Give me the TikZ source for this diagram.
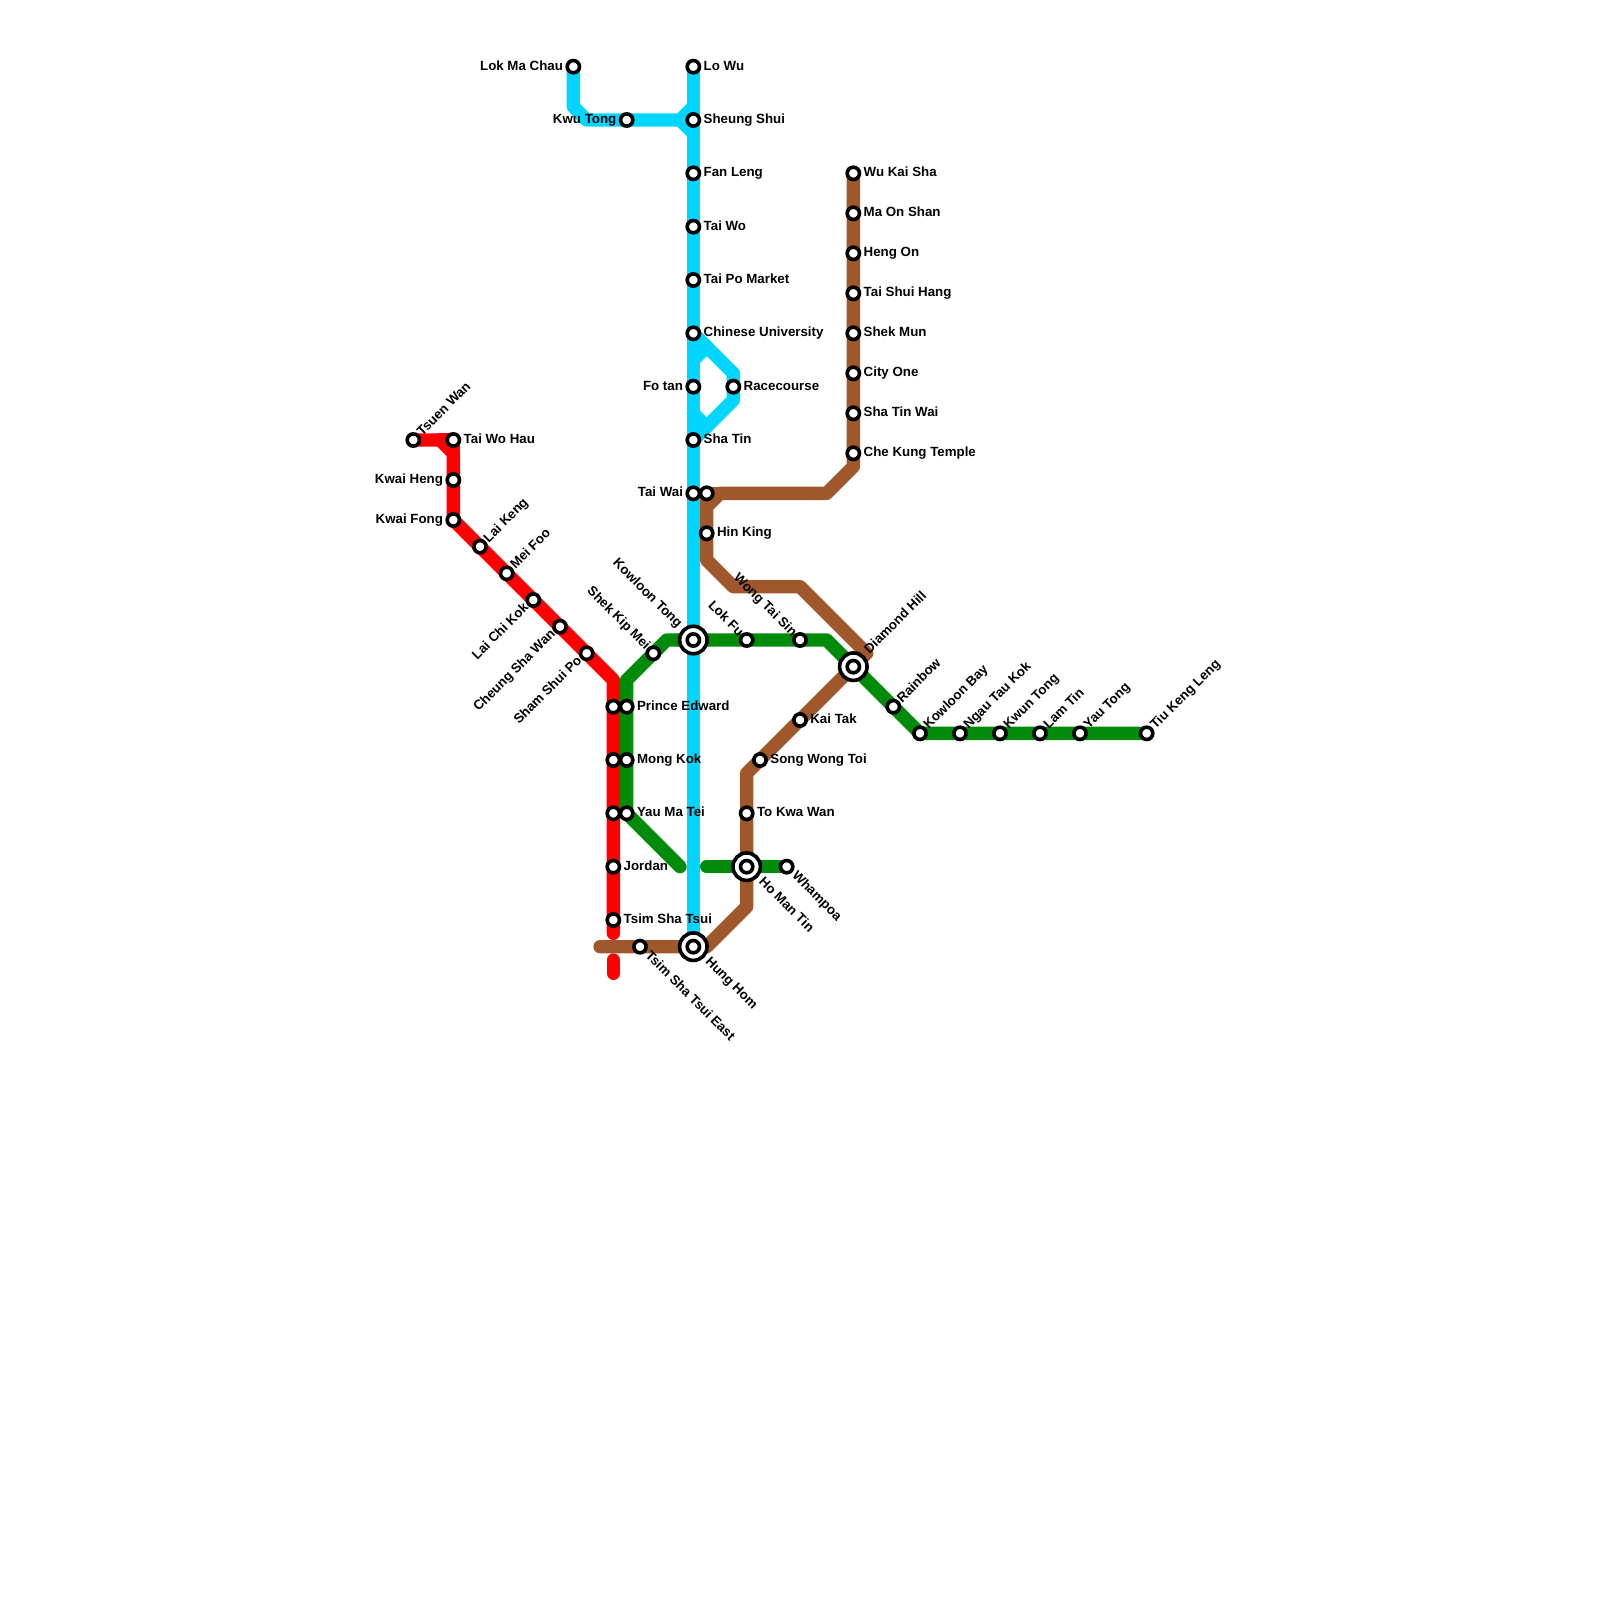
\documentclass[tikz,border=0pt]{standalone}
\usepackage{fontspec}
\setmainfont{Liberation Sans}
\usetikzlibrary{backgrounds}
\definecolor{eastrail}{RGB}{0,214,255}
\definecolor{tsuenwan}{RGB}{255,0,0}
\definecolor{kwuntong}{RGB}{0,140,10}
\definecolor{maonshan}{RGB}{160,87,43}
\tikzset{>=latex}
\tikzset{line/.style={line width=0.25cm, line cap=round, line join=round}}
\tikzset{stn/.style={circle, draw=black, fill=white, line width=0.068cm,
    minimum size=0.23cm, inner sep=0pt, outer sep=0pt}}
\tikzset{hub/.style={circle, draw=black, fill=white, line width=0.068cm,
    minimum size=0.515cm, inner sep=0pt, outer sep=0pt,
    path picture={\draw[line width=0.068cm] (path picture bounding box.center)
      circle[radius=0.115cm];}}}
\tikzset{lbl/.style={inner sep=0pt, font=\fontsize{7.1pt}{8pt}\selectfont\bfseries}}
\tikzset{lblE/.style={lbl, anchor=base west, shift={(0.75,0.27)}}}
\tikzset{lblW/.style={lbl, anchor=base east, shift={(-0.75,0.27)}}}
\tikzset{lblNE/.style={lbl, anchor=base west, shift={(0.65,-0.25)}, rotate=45}}
\tikzset{lblSE/.style={lbl, anchor=base west, shift={(0.35,0.7)}, rotate=-45}}
\tikzset{lblNW/.style={lbl, anchor=base east, shift={(-0.6,-0.2)}, rotate=-45}}
\tikzset{lblSW/.style={lbl, anchor=base east, shift={(-0.3,0.6)}, rotate=45}}
\tikzset{lblhubNE/.style={lbl, anchor=base west, shift={(1.2,-0.9)}, rotate=45}}
\tikzset{lblhubSE/.style={lbl, anchor=base west, shift={(0.85,1.15)}, rotate=-45}}
\tikzset{lblhubNW/.style={lbl, anchor=base east, shift={(-1.2,-0.85)}, rotate=-45}}
\begin{document}
\begin{tikzpicture}[x=0.25cm, y=-0.25cm]
  \useasboundingbox (0,0) rectangle (120,120); %
  % ordinary stations
  \foreach \stnname/\xx/\yy/\side/\txt in {
    lowu/52/5/E/Lo Wu, sheungshui/52/9/E/Sheung Shui, fanleng/52/13/E/Fan Leng,
    taiwo/52/17/E/Tai Wo, taipo/52/21/E/Tai Po Market,
    chineseu/52/25/E/Chinese University, fotan/52/29/W/Fo tan,
    racecourse/55/29/E/Racecourse, shatin/52/33/E/Sha Tin, taiwaiE/52/37/W/Tai Wai,
    lokmachau/43/5/W/Lok Ma Chau, kwutongN/47/9/W/Kwu Tong,
    tsuenwanS/31/33/NE/Tsuen Wan, taiwohau/34/33/E/Tai Wo Hau,
    kwaiheng/34/36/W/Kwai Heng, kwaifong/34/39/W/Kwai Fong,
    laiking/36/41/NE/Lai Keng, meifoo/38/43/NE/Mei Foo,
    laichikok/40/45/SW/Lai Chi Kok, cheungsha/42/47/SW/Cheung Sha Wan,
    shamshui/44/49/SW/Sham Shui Po, jordan/46/65/E/Jordan,
    tsimsha/46/69/E/Tsim Sha Tsui, shekkip/49/49/NW/Shek Kip Mei,
    princeG/47/53/E/Prince Edward, mongkokG/47/57/E/Mong Kok,
    yaumaG/47/61/E/Yau Ma Tei, lokfu/56/48/NW/Lok Fu,
    wongtai/60/48/NW/Wong Tai Sin, rainbow/67/53/NE/Rainbow,
    kowloonbay/69/55/NE/Kowloon Bay, ngautau/72/55/NE/Ngau Tau Kok,
    kwuntongS/75/55/NE/Kwun Tong, lamtin/78/55/NE/Lam Tin,
    yautong/81/55/NE/Yau Tong, tiukeng/86/55/NE/Tiu Keng Leng,
    whampoa/59/65/SE/Whampoa, wukaisha/64/13/E/Wu Kai Sha,
    maonshanS/64/16/E/Ma On Shan, hengon/64/19/E/Heng On,
    taishui/64/22/E/Tai Shui Hang, shekmun/64/25/E/Shek Mun,
    cityone/64/28/E/City One, shatinwai/64/31/E/Sha Tin Wai,
    chekung/64/34/E/Che Kung Temple, hinking/53/40/E/Hin King,
    kaitak/60/54/E/Kai Tak, songwong/57/57/E/Song Wong Toi,
    tokwawan/56/61/E/To Kwa Wan, tsteast/48/71/SE/Tsim Sha Tsui East}{
    \node[stn] (\stnname) at (\xx,\yy) {}; %
    \node[lbl\side] (\stnname-txt) at (\stnname) {\txt}; %
  }
  % stations that share a name with the one beside them
  \foreach \stnname/\xx/\yy in {taiwaiB/53/37, princeR/46/53, mongkokR/46/57, yaumaR/46/61}{
    \node[stn] (\stnname) at (\xx,\yy) {}; %
  }
  % interchanges
  \foreach \stnname/\xx/\yy/\side/\txt in {
    kowloontong/52/48/NW/Kowloon Tong, diamondhill/64/50/NE/Diamond Hill,
    homantin/56/65/SE/Ho Man Tin, hunghom/52/71/SE/Hung Hom}{
    \node[hub] (\stnname) at (\xx,\yy) {}; %
    \node[lblhub\side] (\stnname-txt) at (\stnname) {\txt}; %
  }
  % bends of the lines
  \coordinate (b1) at (43,8); %
  \coordinate (b2) at (44,9); %
  \coordinate (b3) at (51,9); %
  \coordinate (b4) at (52,8); %
  \coordinate (b5) at (52,10); %
  \coordinate (b6) at (53,26); %
  \coordinate (b7) at (52,27); %
  \coordinate (b8) at (55,28); %
  \coordinate (b9) at (55,30); %
  \coordinate (b10) at (53,32); %
  \coordinate (b11) at (52,31); %
  \coordinate (r1) at (33,33); %
  \coordinate (r2) at (34,34); %
  \coordinate (r3) at (46,51); %
  \coordinate (r4) at (46,70); %
  \coordinate (r5) at (46,72); %
  \coordinate (r6) at (46,73); %
  \coordinate (g1) at (47,51); %
  \coordinate (g2) at (50,48); %
  \coordinate (g3) at (62,48); %
  \coordinate (g4) at (51,65); %
  \coordinate (g5) at (53,65); %
  \coordinate (m1) at (64,35); %
  \coordinate (m2) at (62,37); %
  \coordinate (m3) at (54,37); %
  \coordinate (m4) at (53,38); %
  \coordinate (m5) at (53,42); %
  \coordinate (m6) at (55,44); %
  \coordinate (m7) at (60,44); %
  \coordinate (m8) at (65,49); %
  \coordinate (m9) at (56,58); %
  \coordinate (m10) at (56,68); %
  \coordinate (m11) at (53,71); %
  \coordinate (m12) at (45,71); %
  \begin{pgfonlayer}{background}
    \draw[line, tsuenwan] (tsuenwanS.center) -- (r1) -- (r2) -- (kwaifong.center) -- (r3) -- (r4); %
    \draw[line, tsuenwan] (r1) -- (taiwohau.center) -- (r2); %
    \draw[line, tsuenwan] (r5) -- (r6); %
    \draw[line, kwuntong] (yaumaG.center) -- (g1) -- (g2) -- (g3) -- (kowloonbay.center) -- (tiukeng.center); %
    \draw[line, kwuntong] (yaumaG.center) -- (g4); %
    \draw[line, kwuntong] (g5) -- (whampoa.center); %
    \draw[line, eastrail] (lowu.center) -- (hunghom.center); %
    \draw[line, eastrail] (lokmachau.center) -- (b1) -- (b2) -- (b3) -- (b4); %
    \draw[line, eastrail] (b3) -- (b5); %
    \draw[line, eastrail] (chineseu.center) -- (b8) -- (b9) -- (shatin.center); %
    \draw[line, eastrail] (b6) -- (b7); %
    \draw[line, eastrail] (b10) -- (b11); %
    \draw[line, maonshan] (wukaisha.center) -- (m1) -- (m2) -- (m3) -- (m4) -- (m5) -- (m6) -- (m7) -- (m8) -- (diamondhill.center) -- (m9) -- (m10) -- (m11) -- (m12); %
    \draw[line, maonshan] (m3) -- (taiwaiB.center) -- (m4); %
  \end{pgfonlayer}
\end{tikzpicture}
\end{document}
